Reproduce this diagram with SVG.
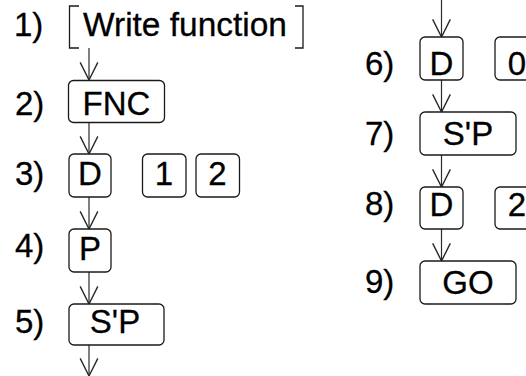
<svg xmlns="http://www.w3.org/2000/svg" width="526" height="376" viewBox="0 0 526 376">
<defs>
<style>
.box{fill:#fff;stroke:#1a1a1a;stroke-width:1.3}
.br{fill:none;stroke:#1a1a1a;stroke-width:1.3}
.t{font-family:"Liberation Sans",Arial,Helvetica,sans-serif;font-size:33px;fill:#000;stroke:#000;stroke-width:0.3}
.m{text-anchor:middle}
.c{fill:none;stroke:#2a2a2a;stroke-width:1.2}
</style>
<marker id="ah" markerWidth="20" markerHeight="20" viewBox="-8 -16 16 17" refX="0" refY="0" orient="0" markerUnits="userSpaceOnUse">
<path d="M-7.5,-15 L0,0 L7.5,-15" fill="none" stroke="#2a2a2a" stroke-width="1.2"/>
</marker>
</defs>
<rect width="526" height="376" fill="#fff"/>
<g id="connectors">
<line class="c" x1="89" y1="48" x2="89" y2="80" marker-end="url(#ah)"/>
<line class="c" x1="89" y1="122" x2="89" y2="154" marker-end="url(#ah)"/>
<line class="c" x1="89" y1="197" x2="89" y2="229" marker-end="url(#ah)"/>
<line class="c" x1="89" y1="272" x2="89" y2="304" marker-end="url(#ah)"/>
<line class="c" x1="89" y1="345" x2="89" y2="376" marker-end="url(#ah)"/>
<line class="c" x1="441.5" y1="0" x2="441.5" y2="37" marker-end="url(#ah)"/>
<line class="c" x1="441.5" y1="80" x2="441.5" y2="112" marker-end="url(#ah)"/>
<line class="c" x1="441.5" y1="155" x2="441.5" y2="187" marker-end="url(#ah)"/>
<line class="c" x1="441.5" y1="229" x2="441.5" y2="261" marker-end="url(#ah)"/>
</g>
<g id="step1">
<text class="t" x="14" y="36">1)</text>
<path class="br" d="M79,6 H69.5 V48 H79"/>
<path class="br" d="M295,6 H303 V48 H295"/>
<text class="t" x="83" y="36" textLength="204" lengthAdjust="spacingAndGlyphs">Write function</text>
</g>
<g id="step2">
<text class="t" x="15" y="115">2)</text>
<rect class="box" x="68.5" y="80.5" width="96" height="42" rx="5"/>
<text class="t m" x="116.5" y="115">FNC</text>
</g>
<g id="step3">
<text class="t" x="15" y="185">3)</text>
<rect class="box" x="69" y="154" width="42" height="43" rx="5"/>
<text class="t m" x="90" y="185">D</text>
<rect class="box" x="142.5" y="154" width="43.5" height="43" rx="5"/>
<text class="t m" x="164" y="185">1</text>
<rect class="box" x="196" y="154" width="43.5" height="43" rx="5"/>
<text class="t m" x="217.5" y="185">2</text>
</g>
<g id="step4">
<text class="t" x="15" y="257">4)</text>
<rect class="box" x="69" y="229" width="42" height="43" rx="5"/>
<text class="t m" x="90" y="260">P</text>
</g>
<g id="step5">
<text class="t" x="15" y="333">5)</text>
<rect class="box" x="69" y="304" width="95" height="41" rx="5"/>
<text class="t m" x="115" y="333">S'P</text>
</g>
<g id="step6">
<text class="t" x="365" y="75">6)</text>
<rect class="box" x="420" y="37" width="43" height="43" rx="5"/>
<text class="t m" x="441.5" y="75">D</text>
<rect class="box" x="495" y="37" width="44" height="43" rx="5"/>
<text class="t m" x="517" y="75">0</text>
</g>
<g id="step7">
<text class="t" x="365" y="145">7)</text>
<rect class="box" x="420" y="112" width="96" height="43" rx="5"/>
<text class="t m" x="468" y="145">S'P</text>
</g>
<g id="step8">
<text class="t" x="365" y="215">8)</text>
<rect class="box" x="420" y="187" width="43" height="42" rx="5"/>
<text class="t m" x="441.5" y="216">D</text>
<rect class="box" x="495" y="187" width="44" height="42" rx="5"/>
<text class="t m" x="517" y="216">2</text>
</g>
<g id="step9">
<text class="t" x="365" y="293">9)</text>
<rect class="box" x="420" y="261" width="96" height="43" rx="5"/>
<text class="t m" x="468" y="294">GO</text>
</g>
</svg>
